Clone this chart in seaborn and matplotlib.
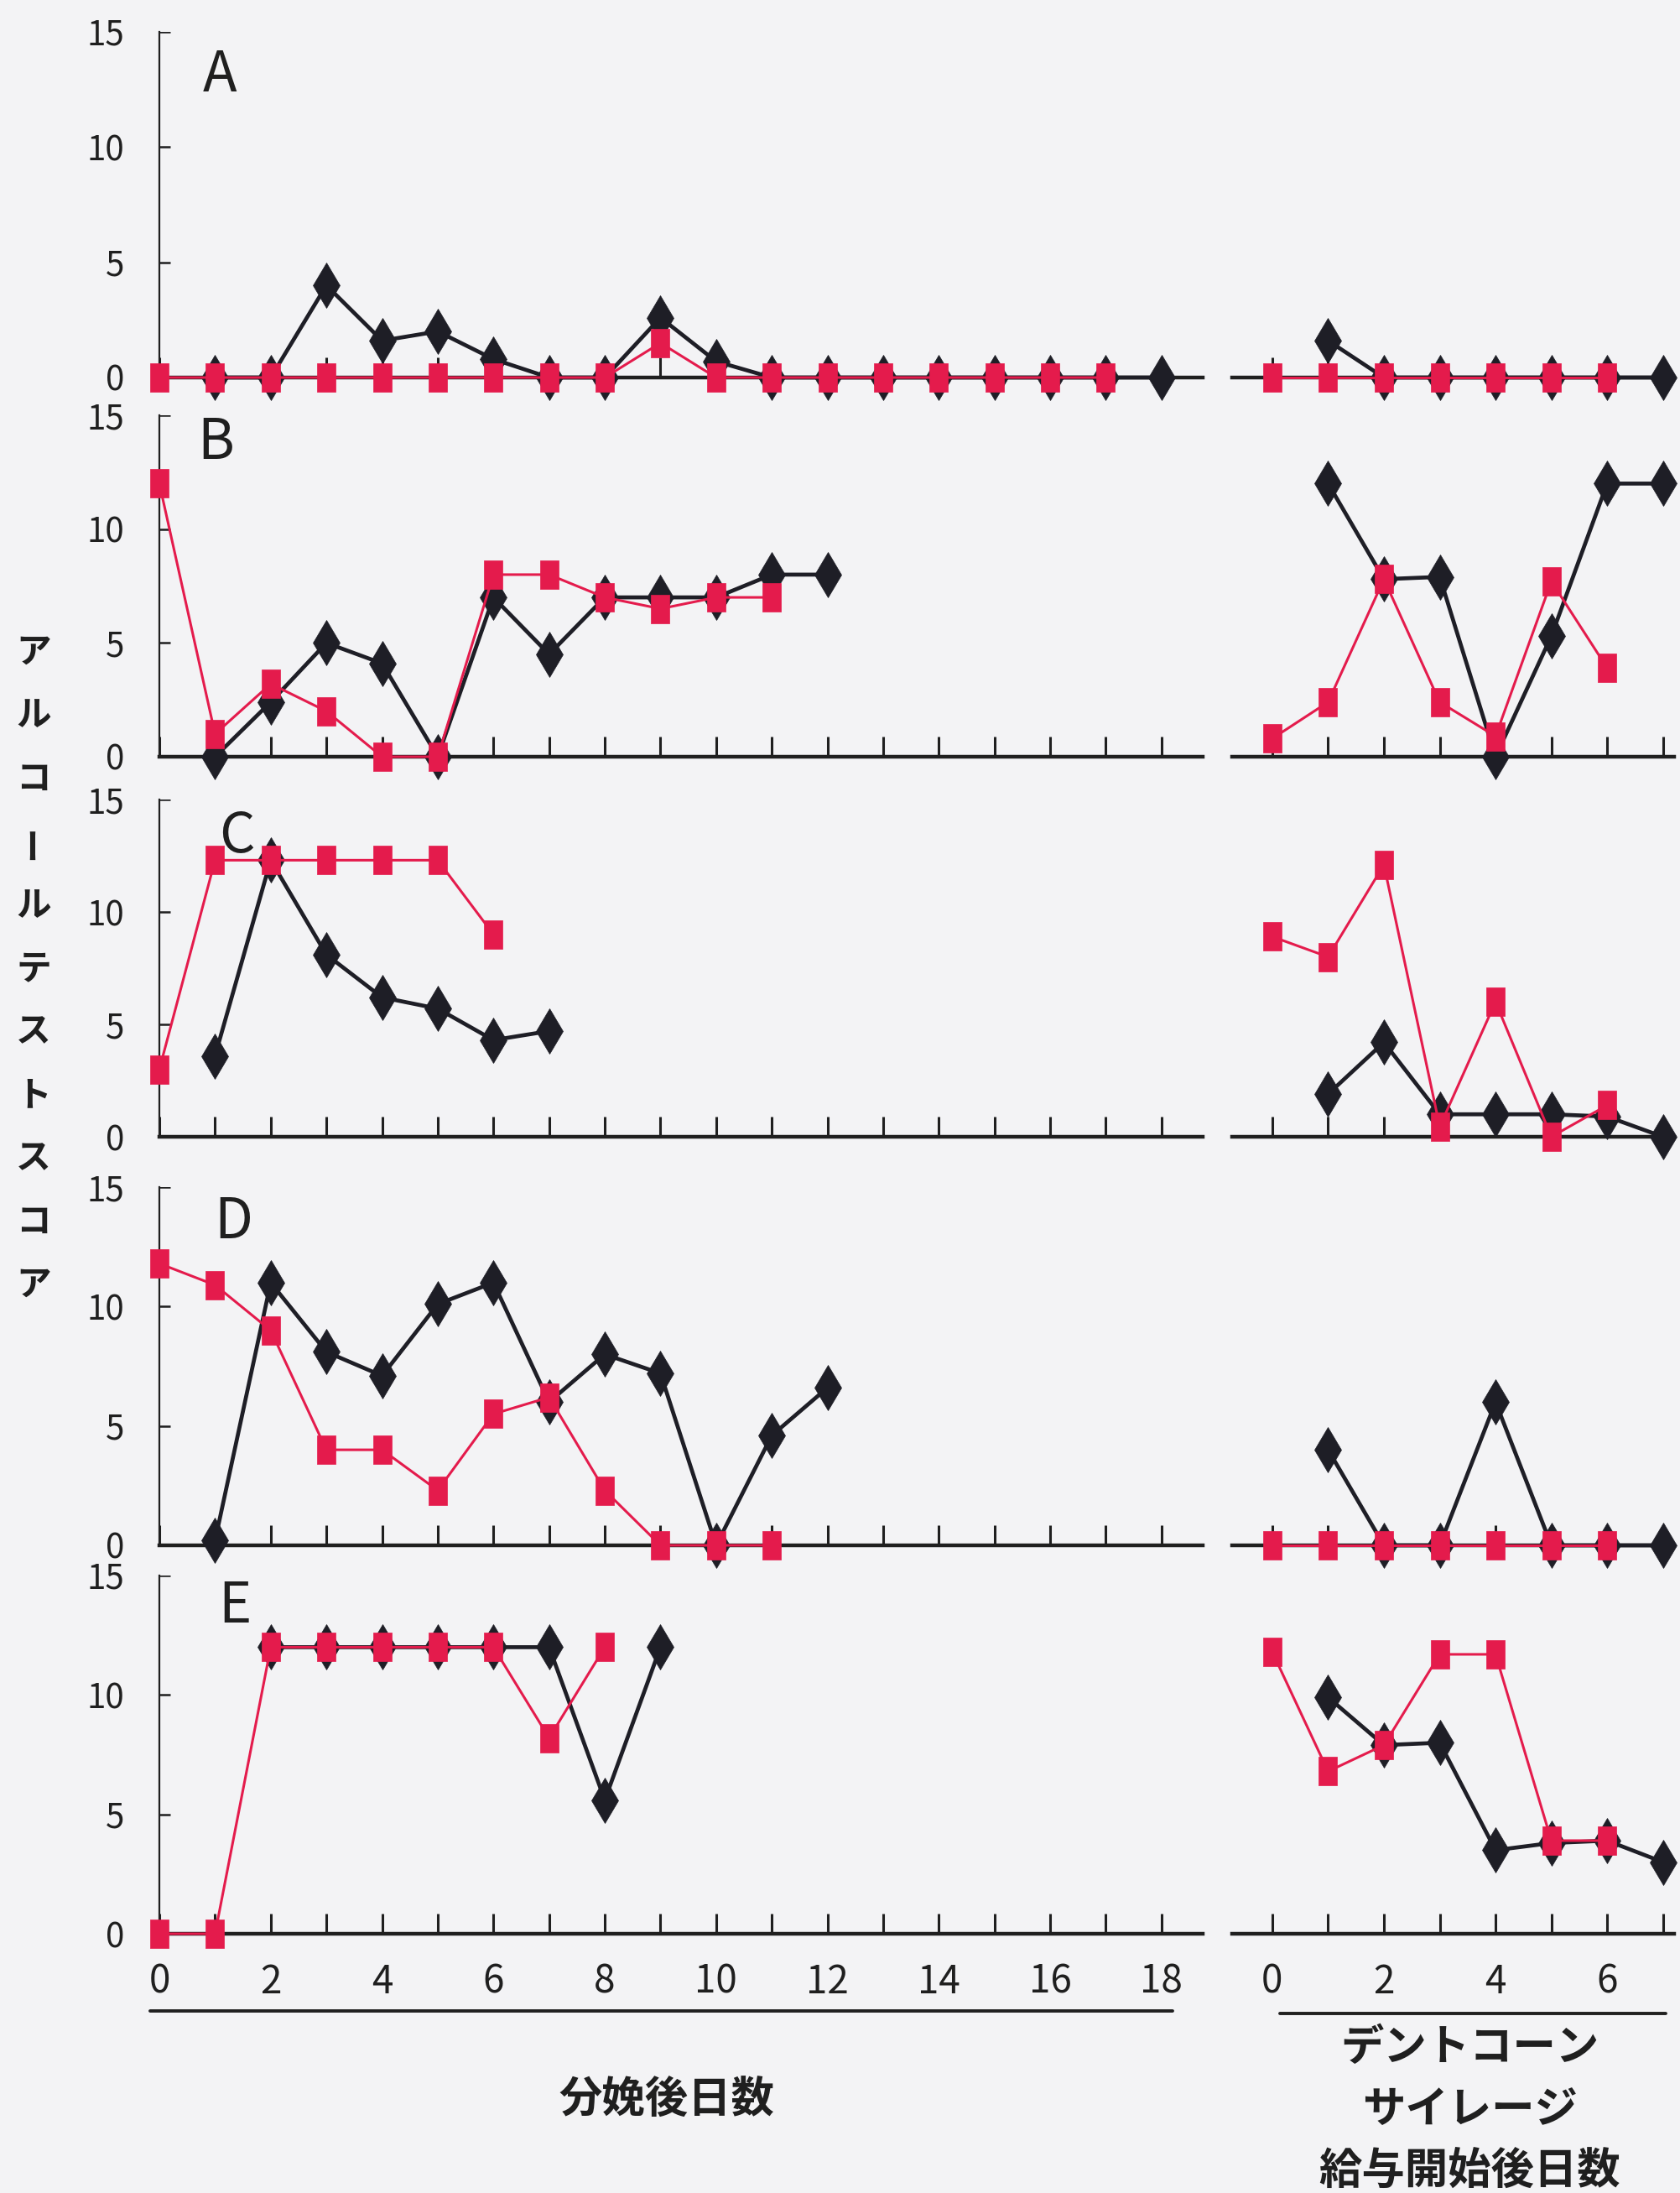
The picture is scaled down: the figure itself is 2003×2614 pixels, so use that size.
"""Alcohol test score per cow (A-E): days after calving / days after starting dent-corn silage."""
import matplotlib

matplotlib.use("Agg")
import matplotlib.pyplot as plt
import seaborn as sns
from matplotlib.lines import Line2D

sns.set_style("white")
plt.rcParams["font.family"] = ["Noto Sans CJK JP", "DejaVu Sans"]

# ---------------------------------------------------------------- data
panel_names = ["A", "B", "C", "D", "E"]

# A
a_calv_black_x = [1, 2, 3, 4, 5, 6, 7, 8, 9, 10, 11, 12, 13, 14, 15, 16, 17, 18]
a_calv_black_y = [0, 0, 4, 1.6, 2, 0.8, 0, 0, 2.6, 0.7, 0, 0, 0, 0, 0, 0, 0, 0]
a_calv_red_x = [0, 1, 2, 3, 4, 5, 6, 7, 8, 9, 10, 11, 12, 13, 14, 15, 16, 17]
a_calv_red_y = [0, 0, 0, 0, 0, 0, 0, 0, 0, 1.5, 0, 0, 0, 0, 0, 0, 0, 0]
a_sil_black_x = [1, 2, 3, 4, 5, 6, 7]
a_sil_black_y = [1.6, 0, 0, 0, 0, 0, 0]
a_sil_red_x = [0, 1, 2, 3, 4, 5, 6]
a_sil_red_y = [0, 0, 0, 0, 0, 0, 0]

# B
b_calv_black_x = [1, 2, 3, 4, 5, 6, 7, 8, 9, 10, 11, 12]
b_calv_black_y = [0, 2.4, 5, 4.1, 0, 7, 4.5, 7, 7, 7, 8, 8]
b_calv_red_x = [0, 1, 2, 3, 4, 5, 6, 7, 8, 9, 10, 11]
b_calv_red_y = [12, 1, 3.2, 2, 0, 0, 8, 8, 7, 6.5, 7, 7]
b_sil_black_x = [1, 2, 3, 4, 5, 6, 7]
b_sil_black_y = [12, 7.8, 7.9, 0, 5.3, 12, 12]
b_sil_red_x = [0, 1, 2, 3, 4, 5, 6]
b_sil_red_y = [0.8, 2.4, 7.8, 2.4, 0.9, 7.7, 3.9]

# C
c_calv_black_x = [1, 2, 3, 4, 5, 6, 7]
c_calv_black_y = [3.6, 12.3, 8.1, 6.2, 5.7, 4.3, 4.7]
c_calv_red_x = [0, 1, 2, 3, 4, 5, 6]
c_calv_red_y = [3, 12.3, 12.3, 12.3, 12.3, 12.3, 9]
c_sil_black_x = [1, 2, 3, 4, 5, 6, 7]
c_sil_black_y = [1.9, 4.2, 1, 1, 1, 0.9, 0]
c_sil_red_x = [0, 1, 2, 3, 4, 5, 6]
c_sil_red_y = [8.9, 8, 12.1, 0.45, 6, 0, 1.4]

# D
d_calv_black_x = [1, 2, 3, 4, 5, 6, 7, 8, 9, 10, 11, 12]
d_calv_black_y = [0.2, 11, 8.1, 7.1, 10.1, 11, 6, 8, 7.2, 0, 4.6, 6.6]
d_calv_red_x = [0, 1, 2, 3, 4, 5, 6, 7, 8, 9, 10, 11]
d_calv_red_y = [11.8, 10.9, 9, 4, 4, 2.3, 5.5, 6.2, 2.3, 0, 0, 0]
d_sil_black_x = [1, 2, 3, 4, 5, 6, 7]
d_sil_black_y = [4, 0, 0, 6, 0, 0, 0]
d_sil_red_x = [0, 1, 2, 3, 4, 5, 6]
d_sil_red_y = [0, 0, 0, 0, 0, 0, 0]

# E
e_calv_black_x = [2, 3, 4, 5, 6, 7, 8, 9]
e_calv_black_y = [12, 12, 12, 12, 12, 12, 5.6, 12]
e_calv_red_x = [0, 1, 2, 3, 4, 5, 6, 7, 8]
e_calv_red_y = [0, 0, 12, 12, 12, 12, 12, 8.2, 12]
e_sil_black_x = [1, 2, 3, 4, 5, 6, 7]
e_sil_black_y = [9.9, 7.9, 8, 3.5, 3.8, 3.9, 3]
e_sil_red_x = [0, 1, 2, 3, 4, 5, 6]
e_sil_red_y = [11.8, 6.8, 7.9, 11.7, 11.7, 3.9, 3.9]

calv_ticks = [0, 1, 2, 3, 4, 5, 6, 7, 8, 9, 10, 11, 12, 13, 14, 15, 16, 17, 18]
calv_ticklabels = ["0", "", "2", "", "4", "", "6", "", "8", "", "10", "", "12", "", "14", "", "16", "", "18"]
sil_ticks = [0, 1, 2, 3, 4, 5, 6, 7]
sil_ticklabels = ["0", "", "2", "", "4", "", "6", ""]
y_ticks = [0, 5, 10, 15]

y_label = "アルコールテストスコア"
x_label_calv = "分娩後日数"
x_label_sil = ["デントコーン", "サイレージ", "給与開始後日数"]

series = {
    "A": (a_calv_black_x, a_calv_black_y, a_calv_red_x, a_calv_red_y,
          a_sil_black_x, a_sil_black_y, a_sil_red_x, a_sil_red_y),
    "B": (b_calv_black_x, b_calv_black_y, b_calv_red_x, b_calv_red_y,
          b_sil_black_x, b_sil_black_y, b_sil_red_x, b_sil_red_y),
    "C": (c_calv_black_x, c_calv_black_y, c_calv_red_x, c_calv_red_y,
          c_sil_black_x, c_sil_black_y, c_sil_red_x, c_sil_red_y),
    "D": (d_calv_black_x, d_calv_black_y, d_calv_red_x, d_calv_red_y,
          d_sil_black_x, d_sil_black_y, d_sil_red_x, d_sil_red_y),
    "E": (e_calv_black_x, e_calv_black_y, e_calv_red_x, e_calv_red_y,
          e_sil_black_x, e_sil_black_y, e_sil_red_x, e_sil_red_y),
}

# ---------------------------------------------------------------- style
BG = "#F3F3F5"
BLACK = "#1E1E26"
INK = "#1F1F1F"
RED = "#E41B4C"
TALL_RECT = [(-0.31, -0.5), (0.31, -0.5), (0.31, 0.5), (-0.31, 0.5), (-0.31, -0.5)]
XTICK_PX = 24  # upward day ticks
YTICK_PX = 13  # rightward score ticks

W, H = 2003, 2614
rows_px = [(38, 450), (495, 902), (953, 1355), (1415, 1842), (1878, 2305)]
left_px = (190, 1434)
right_px = (1469, 1996)
letter_pos = [(0.058, 0.874), (0.054, 0.919), (0.074, 0.89), (0.071, 0.90), (0.072, 0.913)]


def add_ax(fig, xpx, ypx):
    x0, x1 = xpx
    yt, yb = ypx
    ax = fig.add_axes([x0 / W, 1 - yb / H, (x1 - x0) / W, (yb - yt) / H])
    ax.set_facecolor("none")
    return ax


def draw(ax, x, y, black):
    if black:
        sns.lineplot(x=x, y=y, ax=ax, color=BLACK, lw=3.4, marker="d", markersize=28,
                     markeredgecolor=BLACK, markeredgewidth=0.5, clip_on=False, zorder=3,
                     estimator=None, sort=False, legend=False)
    else:
        sns.lineplot(x=x, y=y, ax=ax, color=RED, lw=2.2, marker=TALL_RECT, markersize=25,
                     markeredgecolor=RED, markeredgewidth=0.5, clip_on=False, zorder=4,
                     estimator=None, sort=False, legend=False)


def style(ax, left, bottom_row, width_px, height_px):
    ax.set_ylim(0, 15)
    for s in ("top", "right"):
        ax.spines[s].set_visible(False)
    ax.spines["bottom"].set_linewidth(3.2)
    ax.spines["bottom"].set_color(INK)
    ticks = calv_ticks if left else sil_ticks
    if left:
        ax.set_xlim(0, 18.74)
        ax.set_xticks(calv_ticks, calv_ticklabels)
        ax.set_yticks(y_ticks, [str(v) for v in y_ticks])
        ax.spines["left"].set_linewidth(1.6)
        ax.spines["left"].set_color(INK)
        ax.tick_params(axis="y", length=0, pad=30, labelsize=29, labelcolor=INK)
        # short rightward ticks at 5, 10, 15
        ax.hlines(y_ticks[1:], 0, YTICK_PX / width_px, transform=ax.get_yaxis_transform(),
                  colors=INK, lw=1.8, zorder=2)
    else:
        ax.set_xlim(-0.72, 7.2)
        ax.set_xticks(sil_ticks, sil_ticklabels)
        ax.spines["left"].set_visible(False)
        ax.tick_params(axis="y", left=False, labelleft=False)
    ax.tick_params(axis="x", length=0, pad=24, labelsize=33, labelcolor=INK,
                   labelbottom=bottom_row)
    # upward day ticks sitting on the baseline
    ax.vlines(ticks, 0, XTICK_PX / height_px, transform=ax.get_xaxis_transform(),
              colors=INK, lw=2.2, zorder=2)
    ax.set_xlabel("")
    ax.set_ylabel("")


fig = plt.figure(figsize=(W / 100, H / 100), dpi=100)
fig.patch.set_facecolor(BG)

for i, name in enumerate(panel_names):
    cbx, cby, crx, cry, sbx, sby, srx, sry = series[name]
    bottom_row = i == len(panel_names) - 1
    h_px = rows_px[i][1] - rows_px[i][0]

    axl = add_ax(fig, left_px, rows_px[i])
    draw(axl, cbx, cby, True)
    draw(axl, crx, cry, False)
    style(axl, True, bottom_row, left_px[1] - left_px[0], h_px)
    lx, ly = letter_pos[i]
    axl.text(lx, ly, name, transform=axl.transAxes, ha="center", va="center",
             fontsize=48, color=INK)

    axr = add_ax(fig, right_px, rows_px[i])
    draw(axr, sbx, sby, True)
    draw(axr, srx, sry, False)
    style(axr, False, bottom_row, right_px[1] - right_px[0], h_px)

# vertical y label, one upright character per slot
for k, ch in enumerate(y_label):
    fig.text(40 / W, 1 - (778 + k * 75.4) / H, ch, ha="center", va="center",
             fontsize=30, fontweight="bold", color=INK,
             rotation=90 if ch == "ー" else 0)

# x labels with underlines
fig.add_artist(Line2D([179 / W, 1398 / W], [1 - 2397 / H] * 2, lw=2.8, color=INK))
fig.add_artist(Line2D([1526 / W, 1986 / W], [1 - 2400 / H] * 2, lw=2.8, color=INK))
fig.text(795 / W, 1 - 2503 / H, x_label_calv, ha="center", va="center",
         fontsize=37, fontweight="bold", color=INK)
for k, line in enumerate(x_label_sil):
    fig.text(1752 / W, 1 - (2440 + k * 74) / H, line, ha="center", va="center",
             fontsize=37, fontweight="bold", color=INK)

fig.savefig("out.png", dpi=100, facecolor=BG)
plt.close(fig)
